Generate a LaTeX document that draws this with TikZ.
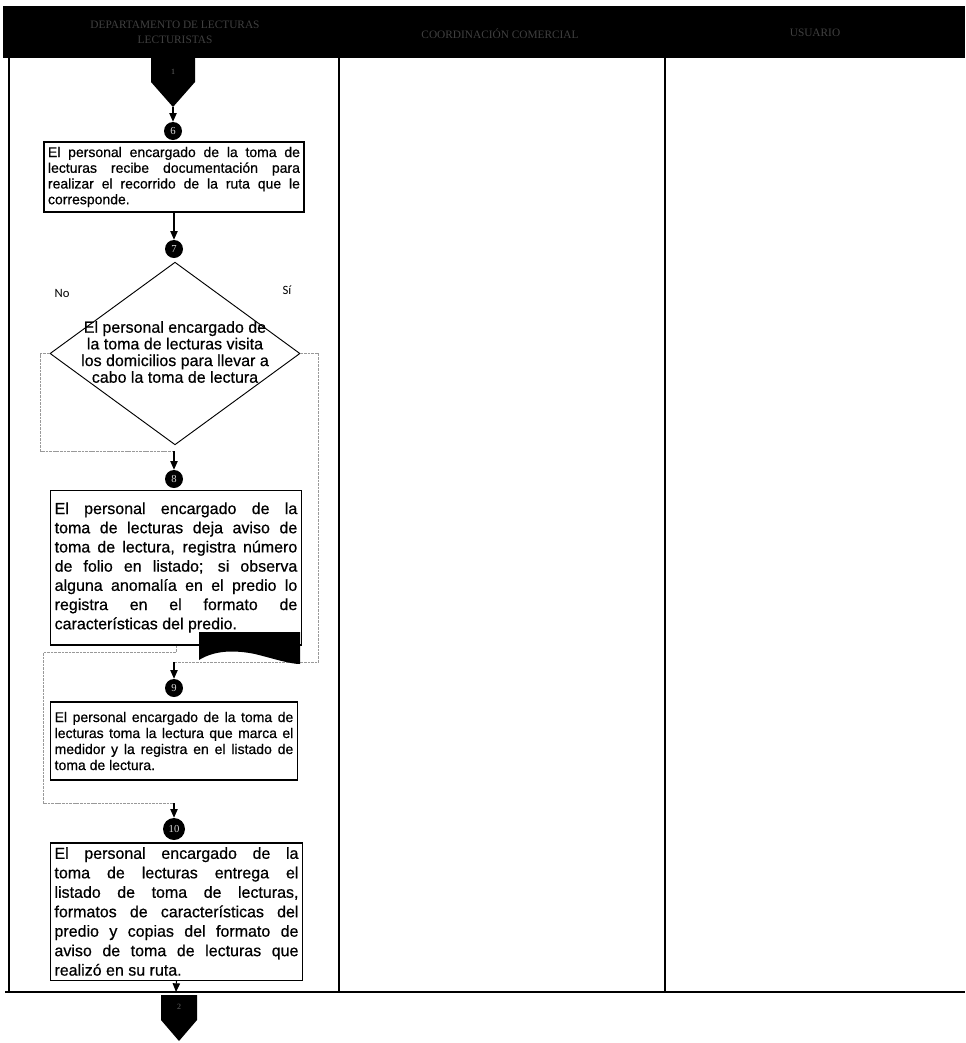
\documentclass[tikz,border=0pt]{standalone}
\usepackage{fontspec}
\setmainfont{Liberation Sans}
\newfontfamily\cajafont{Liberation Sans}[BoldFont=Liberation Sans, BoldFeatures={FakeBold=0.6}]
\newfontfamily\serifnum{Liberation Serif}
\newfontfamily\calib{Carlito}
\usetikzlibrary{shapes.geometric,arrows.meta}
\hyphenpenalty=10000

\tikzset{
  caja/.style={draw, line width=1pt, align=justify, inner sep=3pt},
  paso/.style={circle, fill=black, text=white!85!black, inner sep=0.5pt, minimum size=13.5pt,
    font=\serifnum\fontsize{8}{8}\selectfont},
  flecha/.style={-{Triangle[width=5.5pt,length=6.5pt]}, line width=0.8pt},
  ruta/.style={draw=black!40, line width=0.5pt, dash pattern=on 2pt off 0.7pt},
  encab/.style={text=white!25!black, font=\serifnum\fontsize{8.5}{11}\selectfont, align=center},
  conlbl/.style={text=white!40!black, font=\serifnum\fontsize{6}{6}\selectfont},
  sino/.style={font=\calib\fontsize{9.5}{10}\selectfont},
}

\begin{document}
\begin{tikzpicture}[x=0.75pt, y=-0.75pt]
\useasboundingbox (0,0) rectangle (965,1043);

% encabezado de carriles
\fill (3,6) rectangle (965,58);
\node[encab] (h1) at (175,32) {DEPARTAMENTO DE LECTURAS\\LECTURISTAS};
\node[encab] (h2) at (500,34) {COORDINACIÓN COMERCIAL};
\node[encab] (h3) at (815,33) {USUARIO};

% carriles
\draw[line width=1.2pt] (9,58) -- (9,992);
\draw[line width=1.2pt] (339,58) -- (339,992);
\draw[line width=1.2pt] (665,58) -- (665,992);
\draw[line width=1.6pt] (5,992) -- (965,992);

% conector de entrada
\fill (151,58) -- (195,58) -- (195,82) -- (173,107) -- (151,82) -- cycle;
\coordinate (conA) at (173,107);
\node[conlbl] (conAt) at (173,72) {1};

\node[paso] (c6) at (173,131) {6};
\draw[flecha] (conA) -- (c6);
\node[caja, text width=189pt, minimum height=52.5pt, font=\cajafont\bfseries\fontsize{10.5}{11.8}\selectfont] (p6) at (174,177)
  {El personal encargado de la toma de\linebreak lecturas recibe documentación para\linebreak
   realizar el recorrido de la ruta que le\linebreak corresponde.};

\node[paso] (c7) at (174,249) {7};
\draw[flecha] (p6) -- (c7);

% decision
\node[draw, diamond, line width=0.7pt, minimum width=187.5pt, minimum height=137pt, inner sep=0pt] (q7) at (175,353.5) {};
\node[font=\cajafont\bfseries\fontsize{12}{12.5}\selectfont, align=center] (q7t) at (175,352)
  {El personal encargado de\\la toma de lecturas visita\\los domicilios para llevar a\\cabo la toma de lectura};
\node[sino] (lno) at (62,293) {No};
\node[sino] (lsi) at (287,290) {Sí};

% rama No
\coordinate (r8) at (174,451);
\draw[ruta] (q7.west) -- ++(-9,0) |- (r8);
\node[paso] (c8) at (174,479) {8};
\draw[flecha] (r8) -- (c8);
\node[caja, text width=182pt, minimum height=116pt, font=\cajafont\bfseries\fontsize{12}{14.4}\selectfont] (p8) at (176,567.5)
  {El personal encargado de la\linebreak toma de lecturas deja aviso de\linebreak
   toma de lectura, registra número\linebreak de folio en listado; si observa\linebreak
   alguna anomalía en el predio lo\linebreak registra en el formato de\linebreak
   características del predio.};

% rama Si
\coordinate (r9) at (174,662);
\draw[ruta] (q7.east) -- ++(18,0) |- (r9);
\fill (199,632) -- (300,632) -- (300,664) .. controls (290,664) and (275,659) .. (255,654)
  .. controls (235,650) and (215,650) .. (199,660) -- cycle;

% regreso del paso 8
\coordinate (r10) at (174,803);
\draw[ruta] (p8.south) -- ++(0,7) -| (43,803) -- (r10);

\node[paso] (c9) at (174,688) {9};
\draw[flecha] (r9) -- (c9);
\node[caja, text width=179pt, minimum height=58.5pt, font=\cajafont\bfseries\fontsize{10.5}{12}\selectfont] (p9) at (174,741)
  {El personal encargado de la toma de\linebreak lecturas toma la lectura que marca el\linebreak
   medidor y la registra en el listado de\linebreak toma de lectura.};

\node[paso, minimum size=16.5pt] (c10) at (174,829) {10};
\draw[flecha] (r10) -- (c10);
\node[caja, text width=183pt, minimum height=103pt, font=\cajafont\bfseries\fontsize{12}{14.6}\selectfont] (p10) at (176.5,911.5)
  {El personal encargado de la\linebreak toma de lecturas entrega el\linebreak
   listado de toma de lecturas,\linebreak formatos de características del\linebreak
   predio y copias del formato de\linebreak aviso de toma de lecturas que\linebreak
   realizó en su ruta.};

% conector de salida
\coordinate (fin) at (176,992);
\draw[flecha] (p10.south) -- (fin);
\fill (161,995) -- (197,995) -- (197,1020) -- (179,1041) -- (161,1020) -- cycle;
\node[conlbl] (conBt) at (179,1007) {2};
\end{tikzpicture}
\end{document}
